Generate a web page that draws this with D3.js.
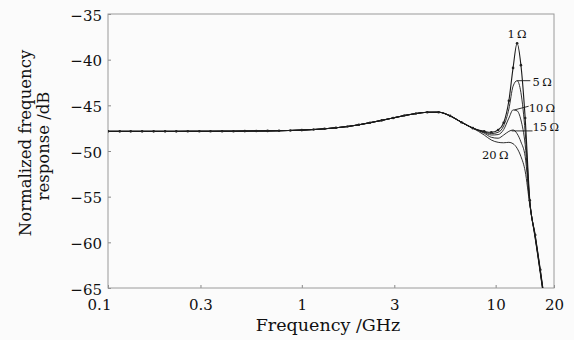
<!DOCTYPE html>
<html>
<head>
<meta charset="utf-8">
<script src="https://cdn.jsdelivr.net/npm/d3@7"></script>
<style>
  body { margin: 0; background: #fbfbfb; }
  svg { display: block; font-family: "DejaVu Serif", serif; }
</style>
</head>
<body>
<svg id="chart"></svg>
<script>
// frequency grid below the resonance (GHz), shared by every curve
const lowFreqs = [0.1, 0.115, 0.131, 0.15, 0.172, 0.197, 0.225, 0.258, 0.296, 0.338,
  0.388, 0.444, 0.508, 0.582, 0.666, 0.763, 0.873, 1, 1.15, 1.31,
  1.5, 1.72, 1.97, 2.25, 2.58, 2.96, 3.38, 3.88, 4.44, 5.08,
  5.82, 6.66, 7.63];
const lowValues = [-47.85, -47.85, -47.85, -47.85, -47.85, -47.85, -47.85, -47.84, -47.84, -47.84,
  -47.83, -47.83, -47.82, -47.81, -47.8, -47.78, -47.75, -47.71, -47.65, -47.57,
  -47.46, -47.32, -47.13, -46.9, -46.65, -46.38, -46.12, -45.9, -45.76, -45.75,
  -46.15, -46.85, -47.5];

// resonance region, one array per resistance
const resFreqs = [8.73, 9.5, 10.3, 11.0, 11.7, 12.3, 12.9, 13.5, 14.2, 15, 16, 17, 18];
const ohm1  = [-47.85, -47.95, -47.7, -46.9, -44.5, -40.9, -38.2, -40.6, -46.4, -55.4, -59.2, -63.0, -66.8];
const ohm5  = [-47.9, -48.1, -47.95, -47.25, -45.4, -42.9, -42.3, -43.6, -47.9, -55.5, -59.3, -63.1, -66.9];
const ohm10 = [-47.95, -48.25, -48.2, -47.65, -46.4, -45.5, -45.6, -46.6, -49.3, -55.6, -59.4, -63.2, -67.0];
const ohm15 = [-48.05, -48.5, -48.6, -48.25, -47.85, -47.7, -48.1, -49.0, -50.6, -55.7, -59.5, -63.3, -67.1];
const ohm20 = [-48.25, -48.8, -49.05, -49.1, -49.05, -49.2, -49.7, -50.6, -52.2, -55.9, -59.6, -63.4, -67.2];

const seriesNames = ['1\u2009Ω', '5\u2009Ω', '10\u2009Ω', '15\u2009Ω', '20\u2009Ω'];
const seriesValues = [ohm1, ohm5, ohm10, ohm15, ohm20];

const xTicks = [0.1, 0.3, 1, 3, 10, 20];
const yTicks = [-65, -60, -55, -50, -45, -40, -35];

const width = 574, height = 340;
const margin = { top: 14, right: 20, bottom: 52, left: 108 };

const svg = d3.select('#chart')
  .attr('width', width)
  .attr('height', height);

const x = d3.scaleLog()
  .domain([0.1, 20])
  .range([margin.left, width - margin.right]);
const y = d3.scaleLinear()
  .domain([-65, -35])
  .range([height - margin.bottom, margin.top]);

const series = seriesValues.map((vals, i) => ({
  name: seriesNames[i],
  points: lowFreqs.map((f, j) => ({ f: f, v: lowValues[j] }))
    .concat(resFreqs.map((f, j) => ({ f: f, v: vals[j] })))
}));

svg.append('defs').append('clipPath')
  .attr('id', 'plot-clip')
  .append('rect')
  .attr('x', x.range()[0])
  .attr('y', y.range()[1])
  .attr('width', x.range()[1] - x.range()[0])
  .attr('height', y.range()[0] - y.range()[1]);

// axes, ticks pointing inward
let xAxis = svg.append('g')
  .attr('transform', `translate(0,${y.range()[0]})`)
  .call(d3.axisBottom(x)
    .tickValues(xTicks)
    .tickSize(-3)
    .tickPadding(11)
    .tickFormat(d => String(d)));
xAxis.select('.domain').remove();
xAxis.selectAll('line').attr('stroke', '#888');
xAxis.selectAll('text')
  .attr('font-size', 15)
  .attr('fill', '#111')
  .attr('font-family', '"DejaVu Serif", serif')
  .attr('dx', d => d === 0.1 ? -9 : 0);

let yAxis = svg.append('g')
  .attr('transform', `translate(${x.range()[0]},0)`)
  .call(d3.axisLeft(y)
    .tickValues(yTicks)
    .tickSize(-3)
    .tickPadding(6)
    .tickFormat(d => '\u2212' + Math.abs(d)));
yAxis.select('.domain').remove();
yAxis.selectAll('line').attr('stroke', '#888');
yAxis.selectAll('text')
  .attr('font-size', 15)
  .attr('fill', '#111')
  .attr('font-family', '"DejaVu Serif", serif')
  .attr('dy', '0.4em');

// frame
svg.append('rect')
  .attr('x', x.range()[0])
  .attr('y', y.range()[1])
  .attr('width', x.range()[1] - x.range()[0])
  .attr('height', y.range()[0] - y.range()[1])
  .attr('fill', 'none')
  .attr('stroke', '#9a9a9a')
  .attr('stroke-width', 1);

// curves
const line = d3.line()
  .x(d => x(d.f))
  .y(d => y(d.v))
  .curve(d3.curveMonotoneX);

const plot = svg.append('g').attr('clip-path', 'url(#plot-clip)');

plot.selectAll('.curve')
  .data(series)
  .enter()
  .append('path')
  .attr('class', 'curve')
  .attr('d', d => line(d.points))
  .attr('fill', 'none')
  .attr('stroke', '#1a1a1a')
  .attr('stroke-width', d => d.name === seriesNames[0] ? 1.1 : 0.9);

// sample markers on the 1 Ω curve
plot.selectAll('.marker')
  .data(series[0].points)
  .enter()
  .append('circle')
  .attr('class', 'marker')
  .attr('cx', d => x(d.f))
  .attr('cy', d => y(d.v))
  .attr('r', 1.3)
  .attr('fill', '#222');

// curve labels (anchor in data units) with leader lines
const labels = [
  { i: 0, tf: 12.9, tv: -37.6, anchor: 'middle' },
  { i: 1, tf: 15.5, tv: -42.9, anchor: 'start', lf: 12.9, lv: -42.3, ef: 15.1, ev: -42.3 },
  { i: 2, tf: 14.8, tv: -45.7, anchor: 'start', lf: 12.5, lv: -45.5, ef: 14.8, ev: -45.1 },
  { i: 3, tf: 15.5, tv: -47.8, anchor: 'start', lf: 12.1, lv: -47.8, ef: 15.5, ev: -47.8 },
  { i: 4, tf: 9.95, tv: -50.9, anchor: 'middle' }
];

svg.selectAll('.leader')
  .data(labels.filter(d => d.lf))
  .enter()
  .append('line')
  .attr('class', 'leader')
  .attr('x1', d => x(d.lf))
  .attr('y1', d => y(d.lv))
  .attr('x2', d => x(d.ef))
  .attr('y2', d => y(d.ev))
  .attr('stroke', '#1a1a1a')
  .attr('stroke-width', 0.9);

svg.selectAll('.curve-label')
  .data(labels)
  .enter()
  .append('text')
  .attr('class', 'curve-label')
  .attr('x', d => x(d.tf))
  .attr('y', d => y(d.tv))
  .attr('text-anchor', d => d.anchor)
  .attr('font-size', 11.5)
  .attr('fill', '#111')
  .text(d => seriesNames[d.i]);

// axis titles
svg.append('text')
  .attr('x', (x.range()[0] + x.range()[1]) / 2 - 3)
  .attr('y', 331)
  .attr('text-anchor', 'middle')
  .attr('font-size', 17.5)
  .attr('fill', '#111')
  .text('Frequency /GHz');

let yTitle = svg.append('text')
  .attr('transform', 'translate(31,143) rotate(-90)')
  .attr('text-anchor', 'middle')
  .attr('font-size', 16.5)
  .attr('fill', '#111');
yTitle.append('tspan').attr('x', 0).attr('dy', 0).text('Normalized frequency');
yTitle.append('tspan').attr('x', -3).attr('dy', '1.1em').text('response /dB');
</script>
</body>
</html>
